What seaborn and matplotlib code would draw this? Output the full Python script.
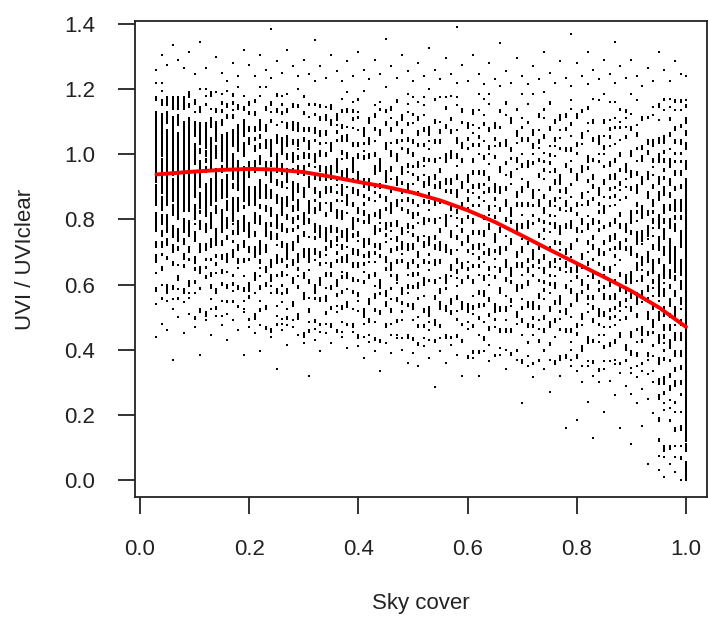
import numpy as np
import pandas as pd
import matplotlib
matplotlib.use("Agg")
import matplotlib.pyplot as plt
import seaborn as sns

# ---------------- data ----------------
# discrete sky-cover values (columns of the scatter), in percent
sky_cover_pct = list(range(3, 101))

# lower edges of the UVI/UVIclear bands (0.1 wide) used for the density readings
ratio_band_lower = [0.0, 0.1, 0.2, 0.3, 0.4, 0.5, 0.6, 0.7, 0.8, 0.9, 1.0, 1.1, 1.2, 1.3]

# first sky-cover percent of each column group
group_start_pct = [3, 10, 20, 30, 40, 50, 60, 70, 80, 90, 95, 100]

# fraction of each band occupied by points, per column group (bands from 0.0 upward)
dens_03_09 = [0, 0, 0.005, 0, 0.03, 0.08, 0.25, 0.55, 0.92, 0.97, 0.95, 0.6, 0.1, 0.01]
dens_10_19 = [0, 0, 0, 0, 0.03, 0.12, 0.3, 0.5, 0.75, 0.8, 0.75, 0.4, 0.05, 0.005]
dens_20_29 = [0, 0, 0, 0.005, 0.05, 0.2, 0.35, 0.5, 0.6, 0.6, 0.55, 0.3, 0.06, 0.008]
dens_30_39 = [0, 0, 0, 0.005, 0.07, 0.25, 0.35, 0.45, 0.5, 0.5, 0.45, 0.25, 0.05, 0.008]
dens_40_49 = [0, 0, 0, 0.01, 0.1, 0.25, 0.35, 0.4, 0.4, 0.4, 0.35, 0.22, 0.05, 0.005]
dens_50_59 = [0, 0, 0, 0.02, 0.12, 0.28, 0.35, 0.35, 0.35, 0.35, 0.3, 0.2, 0.05, 0.005]
dens_60_69 = [0, 0, 0, 0.03, 0.15, 0.28, 0.32, 0.33, 0.32, 0.3, 0.28, 0.18, 0.04, 0.005]
dens_70_79 = [0, 0.005, 0.005, 0.05, 0.2, 0.3, 0.32, 0.33, 0.32, 0.3, 0.28, 0.18, 0.04, 0.005]
dens_80_89 = [0, 0.015, 0.02, 0.08, 0.2, 0.35, 0.35, 0.33, 0.3, 0.3, 0.25, 0.18, 0.05, 0.008]
dens_90_94 = [0.01, 0.02, 0.05, 0.1, 0.3, 0.35, 0.5, 0.5, 0.4, 0.35, 0.3, 0.15, 0.04, 0.005]
dens_95_99 = [0.08, 0.15, 0.25, 0.35, 0.45, 0.5, 0.65, 0.65, 0.55, 0.45, 0.35, 0.2, 0.05, 0.005]
dens_100 = [0.75, 1, 1, 1, 1, 1, 1, 1, 0.95, 0.6, 0.5, 0.35, 0, 0]

# red fitted curve
fit_x = [0.03, 0.10, 0.15, 0.20, 0.25, 0.30, 0.35, 0.40, 0.45, 0.50, 0.55,
         0.60, 0.65, 0.70, 0.75, 0.80, 0.85, 0.90, 0.95, 1.00]
fit_y = [0.938, 0.947, 0.952, 0.955, 0.953, 0.945, 0.931, 0.915, 0.900, 0.882, 0.858,
         0.828, 0.792, 0.750, 0.707, 0.665, 0.623, 0.580, 0.530, 0.470]

x_ticks = [0.0, 0.2, 0.4, 0.6, 0.8, 1.0]
y_ticks = [0.0, 0.2, 0.4, 0.6, 0.8, 1.0, 1.2, 1.4]

# ---------------- build point table from the readings ----------------
group_dens = [dens_03_09, dens_10_19, dens_20_29, dens_30_39, dens_40_49, dens_50_59,
              dens_60_69, dens_70_79, dens_80_89, dens_90_94, dens_95_99, dens_100]

# dash lengths (in cells) used to lay the readings out as short vertical runs
dash_cycle = [2, 4, 1, 3, 5, 2, 1, 6, 3, 1, 4, 2, 3]

band_centres = np.array(ratio_band_lower) + 0.05
cell = 0.005
n_cells = int(round(1.4 / cell))
pts_x, pts_y = [], []
for ci, pct in enumerate(sky_cover_pct):
    g = max(i for i, s in enumerate(group_start_pct) if s <= pct)
    dens = np.array(group_dens[g], dtype=float)
    acc = (ci * 0.618034) % 1.0
    k = (ci * 7) % len(dash_cycle)
    step = 1 + (ci % (len(dash_cycle) - 1))
    i = n_cells - 1
    while i >= 0:
        yv = i * cell
        d = float(np.interp(yv, band_centres, dens))
        if yv > 1.35:
            d = min(d, dens[-1])
        if d >= 0.9 or d < 0.1:
            L = 1
        else:
            L = dash_cycle[k % len(dash_cycle)]
            k += step
        acc += d * L
        if d > 0 and acc >= L - 1e-9:
            acc -= L
            for j in range(L):
                if i - j >= 0:
                    pts_x.append(pct / 100.0)
                    pts_y.append((i - j) * cell)
        i -= L

df = pd.DataFrame({"Sky cover": pts_x, "UVI / UVIclear": pts_y})
fit_df = pd.DataFrame({"x": fit_x, "y": fit_y})

# ---------------- plot ----------------
sns.set_style("ticks")
plt.rcParams["font.family"] = ["Liberation Sans", "DejaVu Sans"]

fig = plt.figure(figsize=(7.08, 6.30), dpi=100)
ax = fig.add_axes([135.2 / 708, (630 - 497) / 630, 572 / 708, 476 / 630])

sns.scatterplot(data=df, x="Sky cover", y="UVI / UVIclear", marker="s", s=3.0,
                color="black", linewidth=0, legend=False, ax=ax)
sns.lineplot(data=fit_df, x="x", y="y", color="#ff0000", linewidth=2.8, ax=ax,
             solid_capstyle="round", solid_joinstyle="round")

ax.set_xlim(-0.0088, 1.0388)
ax.set_ylim(-0.052, 1.409)
ax.set_xticks(x_ticks)
ax.set_xticklabels([f"{v:.1f}" for v in x_ticks])
ax.set_yticks(y_ticks)
ax.set_yticklabels([f"{v:.1f}" for v in y_ticks])

for sp in ax.spines.values():
    sp.set_visible(True)
    sp.set_color("#222222")
    sp.set_linewidth(1.3)

ax.tick_params(axis="both", length=12, width=1.3, color="#222222",
               labelsize=16, labelcolor="#222222", direction="out")
ax.tick_params(axis="y", pad=17)
ax.tick_params(axis="x", pad=18)

ax.set_xlabel("Sky cover", fontsize=16, color="#222222")
ax.set_ylabel("UVI / UVIclear", fontsize=16, color="#222222")
ax.xaxis.set_label_coords(0.5, -(603 - 497) / 476)
ax.xaxis.label.set_va("center")
ax.yaxis.set_label_coords(-(135 - 25) / 572, 0.5)
ax.yaxis.label.set_va("center")

fig.savefig("out.png", dpi=100, facecolor="white")
